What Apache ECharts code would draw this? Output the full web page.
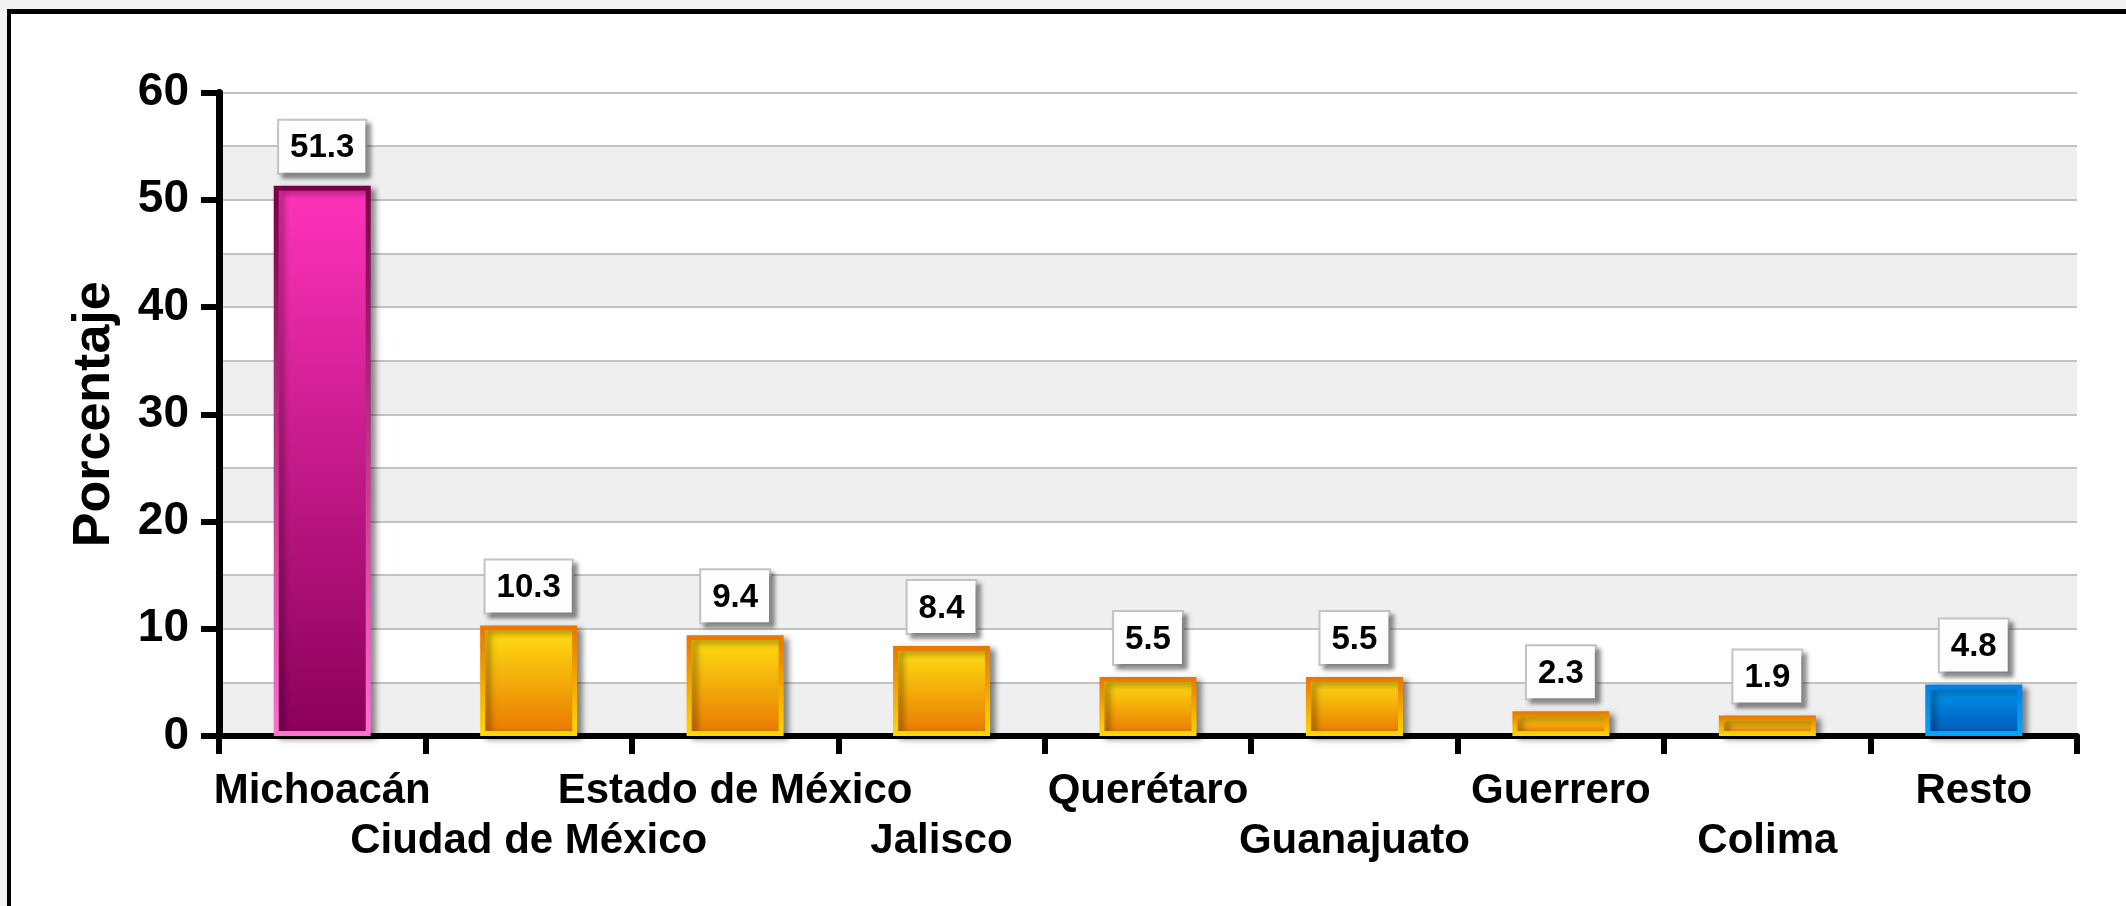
<!DOCTYPE html>
<html>
<head>
<meta charset="utf-8">
<script src="https://cdn.jsdelivr.net/npm/echarts@6/dist/echarts.min.js"></script>
<style>
  html, body { margin: 0; padding: 0; background: #f3f3f3; overflow: hidden; }
  #frame { position: absolute; left: 7px; top: 9px; width: 2200px; height: 1000px;
           border-left: 4px solid #000; border-top: 5px solid #000; background: #fff; }
  #chart { position: absolute; left: 0; top: 0; width: 2126px; height: 906px; }
</style>
</head>
<body>
<div id="frame"></div>
<div id="chart"></div>
<script>
const categories = ['Michoacán', 'Ciudad de México', 'Estado de México', 'Jalisco', 'Querétaro', 'Guanajuato', 'Guerrero', 'Colima', 'Resto'];
const values = [51.3, 10.3, 9.4, 8.4, 5.5, 5.5, 2.3, 1.9, 4.8];
const yTicks = [0, 10, 20, 30, 40, 50, 60];

function grad(top, bottom) {
  return new echarts.graphic.LinearGradient(0, 0, 0, 1, [
    { offset: 0, color: top }, { offset: 1, color: bottom }
  ]);
}
const styles = {
  pink:   { fill: ['#ff33bb', '#8a0058'], border: ['#7a0048', '#ff6fd0'] },
  orange: { fill: ['#ffe214', '#e87600'], border: ['#e87600', '#ffd800'] },
  blue:   { fill: ['#0098f2', '#0058b4'], border: ['#0080e8', '#00a8ff'] }
};
function styleFor(i) {
  if (i === 0) return styles.pink;
  if (i === values.length - 1) return styles.blue;
  return styles.orange;
}

const font = 'Liberation Sans, Arial, Helvetica, sans-serif';
const chart = echarts.init(document.getElementById('chart'), null, { renderer: 'canvas' });
chart.setOption({
  backgroundColor: 'transparent',
  animation: false,
  grid: { left: 219, right: 49, top: 92.5, bottom: 170, containLabel: false },
  xAxis: {
    type: 'category',
    data: categories,
    axisLine: { show: true, lineStyle: { color: '#000', width: 6 } },
    axisTick: { show: true, length: 18, lineStyle: { color: '#000', width: 6 } },
    axisLabel: {
      interval: 0, margin: 30, fontFamily: font, fontWeight: 'bold', fontSize: 42,
      color: '#000', lineHeight: 50,
      formatter: (v, i) => (i % 2 ? '\n' + v : v)
    },
    splitLine: { show: false }
  },
  yAxis: [
    {
      type: 'value', min: yTicks[0], max: yTicks[yTicks.length - 1], interval: 10,
      name: 'Porcentaje', nameLocation: 'middle', nameGap: 98, nameRotate: 90,
      nameTextStyle: { fontFamily: font, fontWeight: 'bold', fontSize: 52, color: '#000' },
      axisLine: { show: true, lineStyle: { color: '#000', width: 7 } },
      axisTick: { show: true, length: 18, lineStyle: { color: '#000', width: 6 } },
      axisLabel: { margin: 30, fontFamily: font, fontWeight: 'bold', fontSize: 46, color: '#000' },
      splitLine: { show: false },
      splitArea: { show: false },
      z: 5
    },
    {
      type: 'value', min: 0, max: 60, interval: 5, position: 'left',
      axisLine: { show: false }, axisTick: { show: false }, axisLabel: { show: false },
      splitLine: { show: true, lineStyle: { color: '#c2c2c2', width: 2 } },
      splitArea: { show: true, areaStyle: { color: ['#efefef', '#ffffff'] } },
      z: 0
    }
  ],
  series: [{
    type: 'bar',
    yAxisIndex: 0,
    barWidth: 97,
    z: 3,
    data: values.map((v, i) => {
      const s = styleFor(i);
      return {
        value: v,
        itemStyle: {
          color: grad(s.fill[0], s.fill[1]),
          borderColor: grad(s.border[0], s.border[1]),
          borderWidth: 5,
          shadowColor: 'rgba(0,0,0,0.4)', shadowBlur: 6, shadowOffsetX: 5, shadowOffsetY: 3
        }
      };
    }),
    label: {
      show: true, position: 'top', distance: 13,
      fontFamily: font, fontWeight: 'bold', fontSize: 33, color: '#000',
      backgroundColor: '#fdfdfd', borderColor: '#c4c4c4', borderWidth: 2,
      padding: [11, 11, 8, 11],
      shadowColor: 'rgba(0,0,0,0.35)', shadowBlur: 4, shadowOffsetX: 4, shadowOffsetY: 4,
      formatter: p => p.value.toFixed(1)
    }
  }]
});
</script>
</body>
</html>
